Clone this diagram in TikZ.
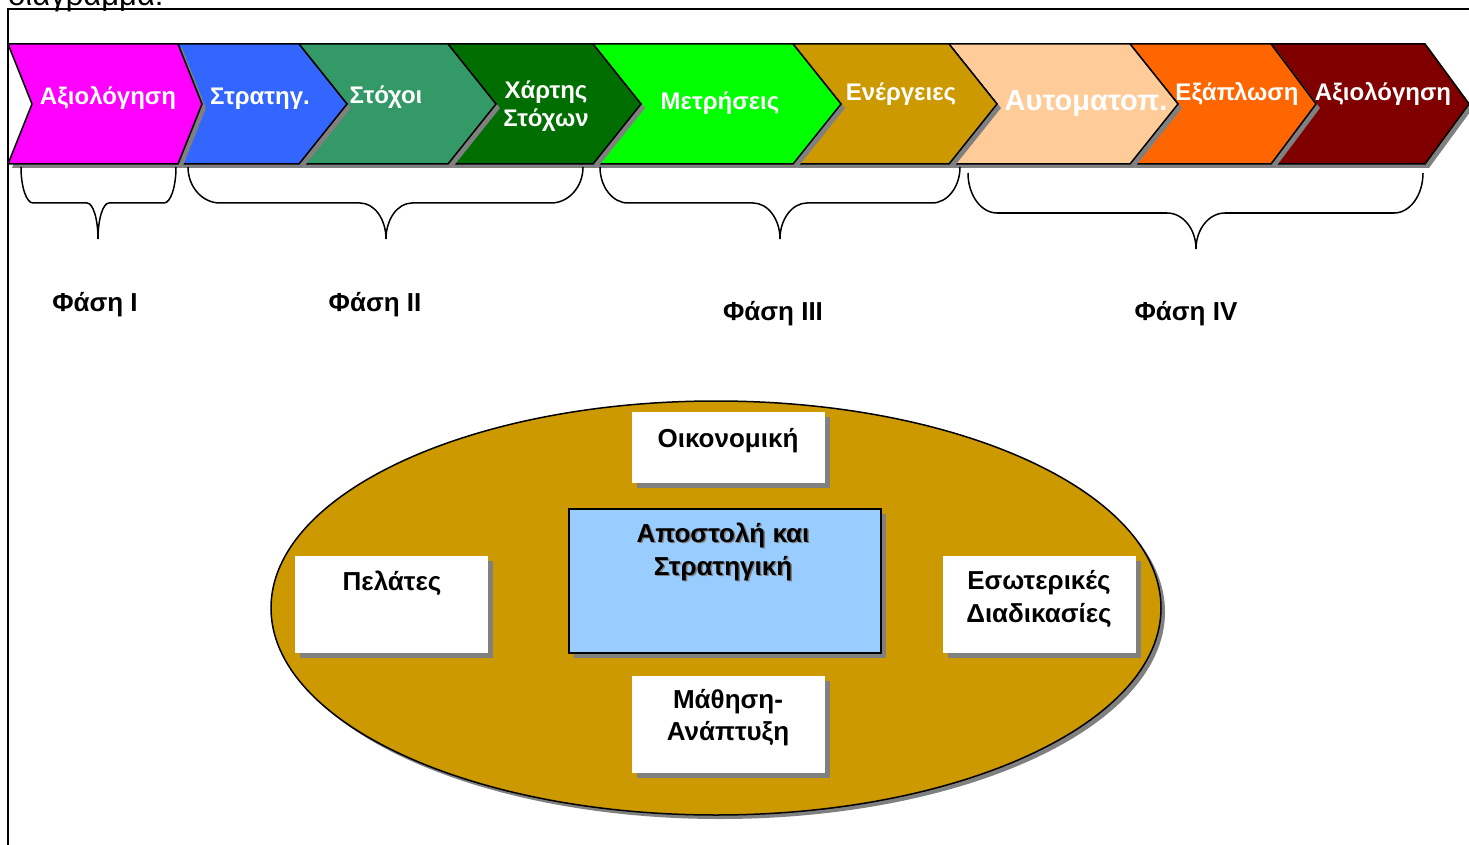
\documentclass[tikz,border=0pt]{standalone}
\usepackage{fontspec}
\setmainfont{Liberation Sans}
\usetikzlibrary{shadows}

\definecolor{cMagenta}{HTML}{FF00FF}
\definecolor{cBlue}{HTML}{3366FF}
\definecolor{cSea}{HTML}{339966}
\definecolor{cDarkGreen}{HTML}{006E00}
\definecolor{cLime}{HTML}{00FF00}
\definecolor{cGold}{HTML}{CC9900}
\definecolor{cPeach}{HTML}{FFCC99}
\definecolor{cOrange}{HTML}{FF6600}
\definecolor{cMaroon}{HTML}{800000}
\definecolor{cSky}{HTML}{99CCFF}
\definecolor{cShade}{HTML}{808080}

\tikzset{
  chev/.style={draw=black, line width=1.5pt, line join=miter,
    drop shadow={opacity=1, fill=cShade, shadow xshift=4pt, shadow yshift=-4pt}},
  chevtext/.style={text=white, font=\bfseries\fontsize{24}{28}\selectfont,
    inner sep=0pt, anchor=base},
  phasetext/.style={font=\bfseries\fontsize{26}{32}\selectfont, inner sep=0pt, anchor=base},
  boxtext/.style={font=\bfseries\fontsize{26}{33}\selectfont, inner sep=0pt, anchor=base},
  panel/.style={fill=white, anchor=north west, inner sep=0pt,
    drop shadow={opacity=1, fill=cShade, shadow xshift=5pt, shadow yshift=-5pt}},
  corebox/.style={panel, fill=cSky, draw=black, line width=1.5pt},
  bracepath/.style={draw=black, line width=1.5pt},
}

% one arrow-shaped step of the process bar
\newcommand\chevron[5]{%
  \path[chev, fill=#5] (#1,44) -- (#2,44) -- ({#2+#4},104) -- (#2,164)
    -- (#1,164) -- ({#1+#3},104) -- cycle;}

% horizontal curly brace: left x, right x, tip x, top y, middle y, tip y, end radius, tip radius
\newcommand\phasebrace[8]{%
  \pgfmathsetmacro\brA{#4+0.552*(#5-#4)}%
  \pgfmathsetmacro\brB{#1+0.448*#7}%
  \pgfmathsetmacro\brC{#1+#7}%
  \pgfmathsetmacro\brD{#3-#8}%
  \pgfmathsetmacro\brE{#3-0.448*#8}%
  \pgfmathsetmacro\brF{#5+0.448*(#6-#5)}%
  \pgfmathsetmacro\brG{#3+0.448*#8}%
  \pgfmathsetmacro\brH{#3+#8}%
  \pgfmathsetmacro\brI{#2-#7}%
  \pgfmathsetmacro\brJ{#2-0.448*#7}%
  \draw[bracepath] (#1,#4) .. controls (#1,\brA) and (\brB,#5) .. (\brC,#5)
    -- (\brD,#5) .. controls (\brE,#5) and (#3,\brF) .. (#3,#6)
    .. controls (#3,\brF) and (\brG,#5) .. (\brH,#5)
    -- (\brI,#5) .. controls (\brJ,#5) and (#2,\brA) .. (#2,#4);}

% two centred lines whose baseline is that of the first line
\newcommand\twoline[2]{\vtop{\halign{\hfil##\hfil\cr#1\cr#2\cr}}}

\begin{document}
\begin{tikzpicture}[x=1pt, y=-1pt]
\useasboundingbox (0,0) rectangle (1469,845);

% caption line running above the frame
\node[font=\fontsize{31}{36}\selectfont, inner sep=0pt, anchor=base west] (caption) at (8,6) {διάγραμμα:};

% frame
\draw[line width=2pt] (8,860) -- (8,9) -- (1480,9);

% process bar, drawn right to left so each step overlaps the next
\chevron{1271}{1425}{45}{44}{cMaroon}
\chevron{1130}{1271}{48}{45}{cOrange}
\chevron{949}{1130}{48}{48}{cPeach}
\chevron{793}{949}{48}{48}{cGold}
\chevron{593}{793}{48}{48}{cLime}
\chevron{448}{593}{48}{48}{cDarkGreen}
\chevron{299}{448}{48}{48}{cSea}
\chevron{178}{299}{24}{48}{cBlue}
\chevron{8}{178}{24}{24}{cMagenta}

% step labels
\node[chevtext] (s1) at (108,105) {Αξιολόγηση};
\node[chevtext] (s2) at (260,105) {Στρατηγ.};
\node[chevtext] (s3) at (386,104) {Στόχοι};
\node[chevtext] (s4) at (546,99) {\twoline{Χάρτης}{Στόχων}};
\node[chevtext] (s5) at (720,110) {Μετρήσεις};
\node[chevtext] (s6) at (901,101) {Ενέργειες};
\node[chevtext, font=\bfseries\fontsize{29}{34}\selectfont] (s7) at (1086,111) {Αυτοματοπ.};
\node[chevtext] (s8) at (1237,101) {Εξάπλωση};
\node[chevtext] (s9) at (1383,101) {Αξιολόγηση};

% phase braces
\phasebrace{21}{176}{98}{167}{203}{239}{12}{11}
\phasebrace{188}{583}{386}{167}{203}{239}{32}{26}
\phasebrace{600}{960}{780}{167}{203}{239}{28}{27}
\phasebrace{968}{1423}{1196}{173}{213}{249}{29}{29}

% phase labels
\node[phasetext] (p1) at (95,311) {Φάση I};
\node[phasetext] (p2) at (375,311) {Φάση II};
\node[phasetext] (p3) at (773,320) {Φάση III};
\node[phasetext] (p4) at (1186,320) {Φάση IV};

% scorecard ellipse
\path[draw=black, line width=1.5pt, fill=cGold,
  drop shadow={opacity=1, fill=cShade, shadow xshift=4pt, shadow yshift=-4pt}]
  (716,608) ellipse [x radius=445pt, y radius=207pt];

% perspective boxes
\node[panel, minimum width=193pt, minimum height=71pt] (oikbox) at (632,412) {};
\node[panel, minimum width=193pt, minimum height=97pt] (pelbox) at (295,556) {};
\node[corebox, minimum width=312pt, minimum height=144pt] (corebx) at (568,508) {};
\node[panel, minimum width=193pt, minimum height=97pt] (mathbox) at (632,676) {};
\node[panel, minimum width=193pt, minimum height=97pt] (esobox) at (943,556) {};

\node[boxtext] (oik) at (728,447) {Οικονομική};
\node[boxtext] (pel) at (392,590) {Πελάτες};
\node[boxtext, text=cShade] (coreshade) at (724.5,543.5) {\twoline{Αποστολή και}{Στρατηγική}};
\node[boxtext] (core) at (723,542) {\twoline{Αποστολή και}{Στρατηγική}};
\node[boxtext, font=\bfseries\fontsize{26}{32}\selectfont] (math) at (728,708) {\twoline{Μάθηση-}{Ανάπτυξη}};
\node[boxtext] (eso) at (1039,589) {\twoline{Εσωτερικές}{Διαδικασίες}};
\end{tikzpicture}
\end{document}
